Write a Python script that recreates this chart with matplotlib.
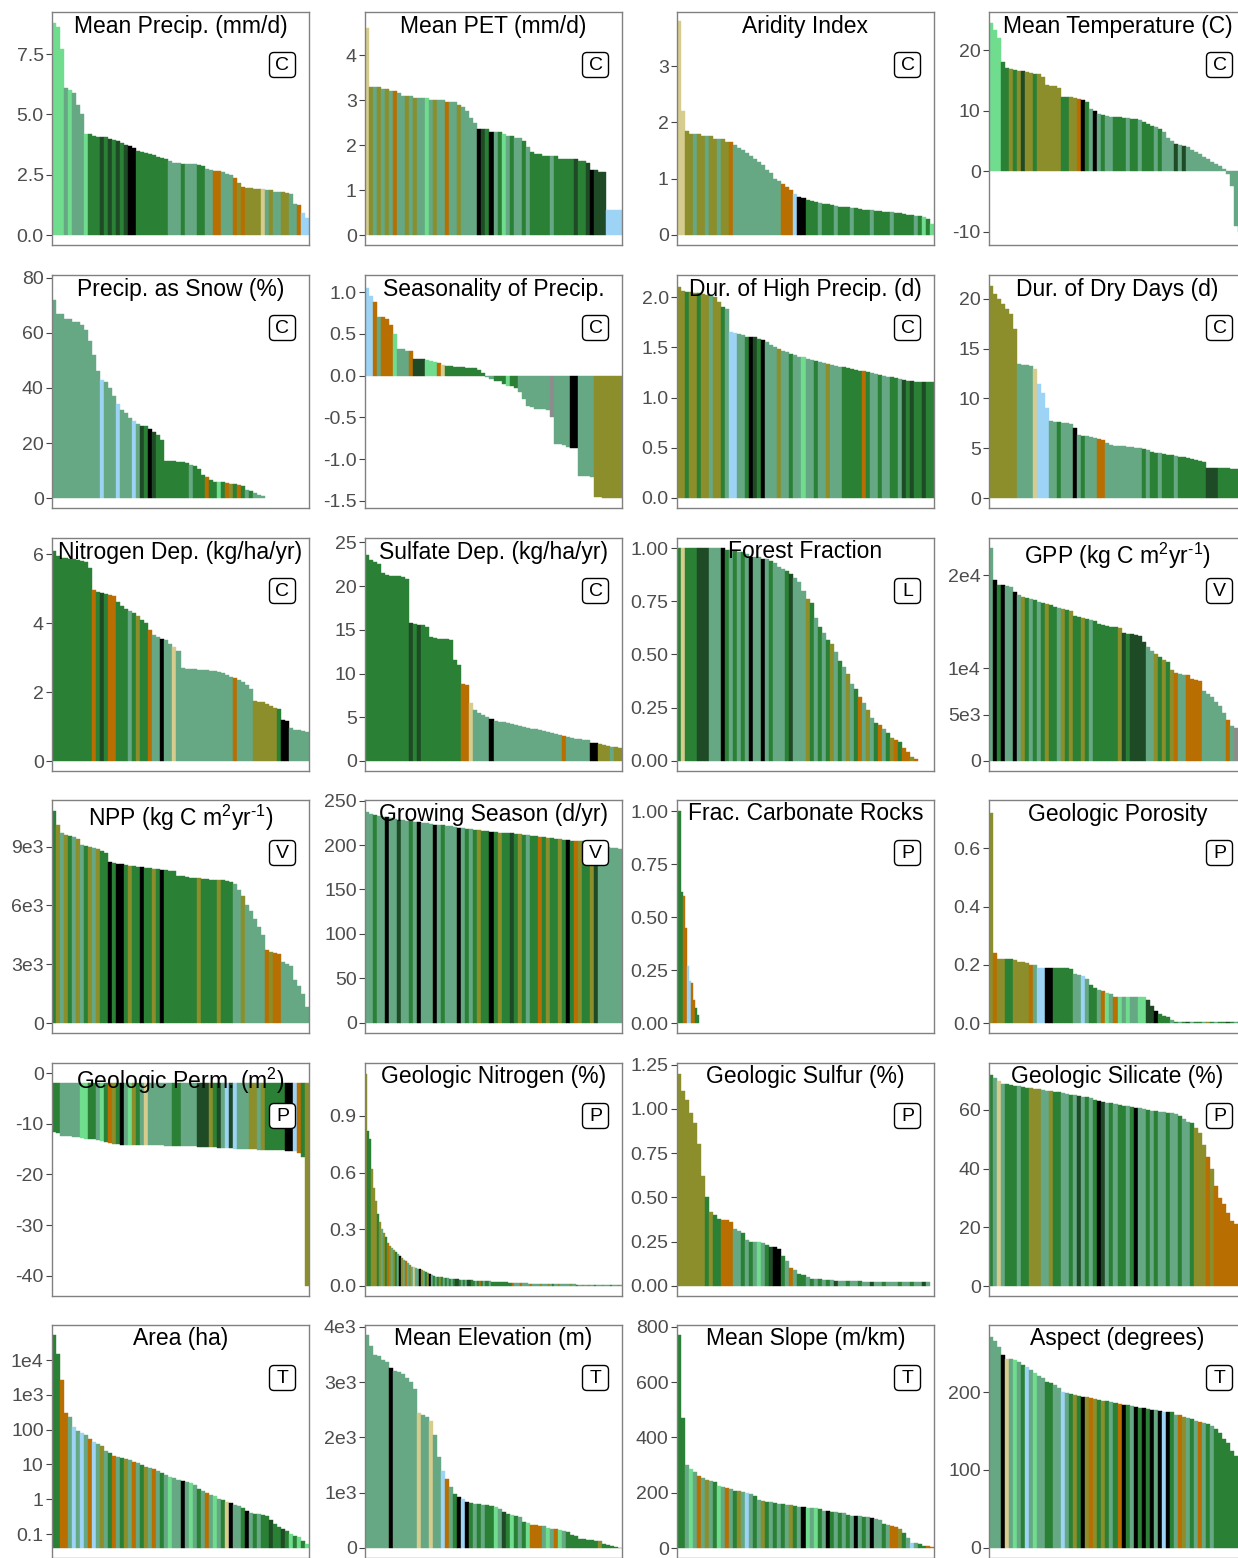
import numpy as np
import matplotlib
matplotlib.use("Agg")
import matplotlib.pyplot as plt
from matplotlib.patches import FancyBboxPatch
from matplotlib.ticker import NullLocator

plt.rcParams['font.family'] = ['Liberation Sans', 'DejaVu Sans']
plt.rcParams['mathtext.fontset'] = 'custom'
plt.rcParams['mathtext.rm'] = 'Liberation Sans'
plt.rcParams['mathtext.it'] = 'Liberation Sans:italic'
plt.rcParams['mathtext.bf'] = 'Liberation Sans:bold'

PALETTE = {
    'l': '#70DC8E', 's': '#65A883', 'f': '#2A8034', 'd': '#1E4A25',
    'k': '#000000', 'o': '#B86E00', 'v': '#8B8E2B', 't': '#D6CC8E',
    'b': '#9DD3F5', 'g': '#8C8C8C',
}

# ---------------- data ----------------
titles = ["Mean Precip. (mm/d)", "Mean PET (mm/d)", "Aridity Index", "Mean Temperature (C)",
          "Precip. as Snow (%)", "Seasonality of Precip.", "Dur. of High Precip. (d)", "Dur. of Dry Days (d)",
          "Nitrogen Dep. (kg/ha/yr)", "Sulfate Dep. (kg/ha/yr)", "Forest Fraction",
          r"GPP (kg C m$^{2}$yr$^{\text{-}1}$)",
          r"NPP (kg C m$^{2}$yr$^{\text{-}1}$)", "Growing Season (d/yr)", "Frac. Carbonate Rocks", "Geologic Porosity",
          "Geologic Perm. (m$^{2}$)", "Geologic Nitrogen (%)", "Geologic Sulfur (%)", "Geologic Silicate (%)",
          "Area (ha)", "Mean Elevation (m)", "Mean Slope (m/km)", "Aspect (degrees)"]
tags = ["C", "C", "C", "C", "C", "C", "C", "C", "C", "C", "L", "V",
        "V", "V", "P", "P", "P", "P", "P", "P", "T", "T", "T", "T"]

precip_vals = [8.8, 8.6, 7.7, 6.1, 6.0, 5.9, 5.4, 5.0,
               4.2, 4.2, 4.1, 4.05, 4.05, 4.05, 4.0, 3.95,
               3.9, 3.8, 3.75, 3.7, 3.6, 3.5, 3.45, 3.4,
               3.35, 3.3, 3.25, 3.2, 3.15, 3.05, 3.0, 3.0,
               2.95, 2.95, 2.95, 2.95, 2.9, 2.85, 2.75, 2.7,
               2.65, 2.65, 2.6, 2.55, 2.5, 2.35, 2.15, 2.0,
               1.95, 1.95, 1.9, 1.9, 1.9, 1.85, 1.85, 1.8,
               1.8, 1.8, 1.75, 1.7, 1.3, 1.25, 0.9, 0.7]
precip_cols = ("l l l s l s s s  l f f f d f d f  d f d k k f f f  f f f f f s s s  "
               "f s s s f f s s  o o s s s o v o  v v v v t s v s  s v v s s o b b")

pet_vals = [4.6, 3.3, 3.3, 3.3, 3.25, 3.25, 3.2, 3.2,
            3.15, 3.1, 3.1, 3.1, 3.05, 3.05, 3.05, 3.05,
            3.0, 3.0, 3.0, 3.0, 2.95, 2.95, 2.95, 2.9,
            2.85, 2.75, 2.6, 2.5, 2.35, 2.35, 2.35, 2.3,
            2.3, 2.3, 2.25, 2.2, 2.2, 2.15, 2.15, 2.1,
            1.95, 1.85, 1.8, 1.8, 1.75, 1.75, 1.75, 1.75,
            1.7, 1.7, 1.7, 1.7, 1.7, 1.65, 1.65, 1.6,
            1.45, 1.45, 1.4, 1.4, 0.55, 0.55, 0.55, 0.55]
pet_cols = ("t v s v s v s o  s s v s v s s l  s v s s o s s v  s s s s k d f k  "
            "s f l s f s s f  s f f f f f s f  f f f f d f f d  k d d d b b b b")

arid_vals = [3.8, 2.2, 1.85, 1.8, 1.8, 1.8, 1.75, 1.75,
             1.75, 1.7, 1.7, 1.7, 1.65, 1.65, 1.6, 1.55,
             1.5, 1.45, 1.4, 1.35, 1.3, 1.25, 1.15, 1.1,
             1.0, 0.95, 0.9, 0.85, 0.8, 0.72, 0.68, 0.65,
             0.62, 0.6, 0.58, 0.57, 0.55, 0.54, 0.53, 0.52,
             0.5, 0.5, 0.49, 0.48, 0.47, 0.46, 0.45, 0.45,
             0.44, 0.43, 0.42, 0.41, 0.4, 0.4, 0.39, 0.38,
             0.37, 0.36, 0.35, 0.34, 0.33, 0.31, 0.28, 0.2]
arid_cols = ("t t v v s v v s  v v s v v o s s  s s s s s s s s  s s o o o b k k  "
             "f f f s f f f s  f f f s f f f f  s f f f f s f f  f f f s f l f l")

temp_vals = [24.5, 23.3, 22.0, 18.0, 17.0, 16.8, 16.7, 16.6,
             16.5, 16.4, 16.2, 16.1, 16.0, 15.5, 14.2, 14.1,
             14.0, 13.8, 12.3, 12.2, 12.2, 12.1, 12.0, 11.8,
             11.5, 10.2, 10.0, 9.5, 9.2, 9.1, 9.0, 9.0,
             8.9, 8.8, 8.8, 8.7, 8.6, 8.5, 8.2, 7.8,
             7.5, 7.3, 7.0, 6.5, 5.5, 5.0, 4.5, 4.3,
             4.2, 4.0, 3.5, 3.2, 2.8, 2.4, 2.0, 1.5,
             1.2, 0.8, 0.3, -0.5, -2.5, -9.0, -10.0, -10.5]
temp_cols = ("l l l f f v f v  d v v f v v v v  v v f f v v o k  f s k s f s s f  "
             "f f s f f s f f  f s f s s s d s  d s s s s s s s  s s s s s s s s")

snow_vals = [72, 67, 67, 65, 65, 64, 64, 63,
             61, 57, 52, 46, 43, 42, 40, 37,
             34, 32, 31, 29, 28, 27, 26, 26,
             25, 24, 23, 21, 13.5, 13.5, 13.3, 13,
             13, 12.8, 12, 11.7, 10.5, 8.5, 7.5, 6.5,
             6, 6, 5.8, 5.5, 5.2, 5, 4.8, 4.5,
             3, 2.5, 2, 1.2, 0.8]
snow_cols = ("s s s s s s s s  s s s s b s s s  b s s s b s d f  k d f f f f f f  "
             "f f s f f f o f  f l f o v f o f  s f s s s")

season_vals = [1.05, 0.95, 0.88, 0.7, 0.7, 0.68, 0.6, 0.5,
               0.32, 0.32, 0.3, 0.3, 0.2, 0.2, 0.2, 0.19,
               0.18, 0.16, 0.15, 0.13, 0.12, 0.11, 0.1, 0.1,
               0.1, 0.09, 0.09, 0.09, 0.07, 0.03, -0.02, -0.04,
               -0.06, -0.07, -0.1, -0.12, -0.13, -0.15, -0.2, -0.28,
               -0.36, -0.38, -0.4, -0.4, -0.4, -0.41, -0.5, -0.82,
               -0.82, -0.83, -0.85, -0.87, -0.87, -1.2, -1.2, -1.2,
               -1.21, -1.45, -1.45, -1.46, -1.46, -1.46, -1.47, -1.47]
season_cols = ("b b o s o o o l  s s s o d d d l  l l o t f f f f  f f f f f f s s  "
               "f f f l f f s s  s s s s s s g s  s s s k k s s s  s v v v v v v v")

highp_vals = [2.1, 2.06, 2.05, 2.05, 2.04, 2.04, 2.03, 2.02,
              2.02, 2.0, 1.95, 1.9, 1.88, 1.65, 1.64, 1.63,
              1.62, 1.6, 1.6, 1.6, 1.58, 1.57, 1.55, 1.52,
              1.5, 1.48, 1.46, 1.45, 1.43, 1.42, 1.4, 1.4,
              1.38, 1.37, 1.36, 1.35, 1.34, 1.33, 1.32, 1.31,
              1.3, 1.3, 1.29, 1.28, 1.27, 1.26, 1.26, 1.25,
              1.24, 1.23, 1.22, 1.21, 1.2, 1.2, 1.19, 1.18,
              1.17, 1.16, 1.16, 1.15, 1.15, 1.15, 1.15, 1.15]
highp_cols = ("v v f v v f v v  s v v f s b b s  s f k d f k s s  s v s s f s s l  "
              "s s f s s v s s  s f f f f f o f  s s f s s f f s  d f d f f d f f")

dry_vals = [21.3, 20.5, 20.0, 19.5, 19.0, 18.5, 17.0, 13.5,
            13.4, 13.4, 13.3, 13.0, 11.5, 10.5, 9.0, 7.7,
            7.6, 7.6, 7.5, 7.5, 7.4, 7.0, 6.3, 6.2,
            6.2, 6.1, 6.0, 5.9, 5.8, 5.5, 5.3, 5.2,
            5.2, 5.2, 5.1, 5.1, 5.0, 5.0, 4.9, 4.8,
            4.6, 4.5, 4.5, 4.4, 4.3, 4.3, 4.2, 4.1,
            4.1, 4.0, 3.9, 3.8, 3.7, 3.6, 3.0, 3.0,
            3.0, 3.0, 3.0, 3.0, 2.9, 2.9, 2.9, 2.9]
dry_cols = ("v v v v v v v s  s s s t b b b s  s f s s s k s f  s s s o o s s s  "
            "s s s s s s f s  f f s f f f s f  f f f f f f d d  d f f f f f f f")

ndep_vals = [6.1, 5.95, 5.9, 5.88, 5.86, 5.85, 5.83, 5.8,
             5.78, 5.6, 4.95, 4.9, 4.88, 4.85, 4.82, 4.8,
             4.6, 4.5, 4.4, 4.35, 4.3, 4.2, 4.1, 4.0,
             3.8, 3.65, 3.6, 3.55, 3.5, 3.4, 3.3, 3.2,
             2.7, 2.68, 2.67, 2.66, 2.65, 2.64, 2.63, 2.62,
             2.6, 2.58, 2.55, 2.5, 2.45, 2.4, 2.35, 2.3,
             2.2, 2.1, 1.75, 1.7, 1.7, 1.65, 1.6, 1.55,
             1.5, 1.2, 1.15, 0.95, 0.9, 0.9, 0.88, 0.85]
ndep_cols = ("f f f f f f f f  f f o f d f o o  f f f s f v f f  o s s k s s t s  "
             "s s s s s s s s  s s s s s o s s  s s v v v v v v  f k k s s s s s")

sdep_vals = [23.5, 23.0, 22.8, 22.5, 21.5, 21.3, 21.2, 21.2,
             21.1, 21.0, 20.8, 15.8, 15.7, 15.6, 15.5, 15.3,
             14.2, 14.1, 14.0, 14.0, 13.9, 13.8, 11.5, 11.0,
             8.8, 8.7, 6.6, 5.8, 5.5, 5.3, 5.0, 4.8,
             4.6, 4.5, 4.4, 4.3, 4.2, 4.1, 4.0, 3.9,
             3.8, 3.7, 3.6, 3.5, 3.4, 3.3, 3.2, 3.1,
             3.0, 2.8, 2.7, 2.6, 2.55, 2.5, 2.45, 2.4,
             2.1, 2.05, 1.9, 1.8, 1.7, 1.65, 1.6, 1.5]
sdep_cols = ("f f f f f f f f  f f f d f d f f  f f f f f f f f  o o t s s s s k  "
             "s s s s s s s s  s s s s s s s s  s o s s s s s s  k k v v v s v v")

forest_vals = [1.0, 1.0, 1.0, 1.0, 1.0, 1.0, 1.0, 1.0,
               1.0, 1.0, 1.0, 1.0, 0.99, 0.99, 0.99, 0.98,
               0.98, 0.97, 0.96, 0.96, 0.96, 0.95, 0.95, 0.94,
               0.93, 0.91, 0.9, 0.89, 0.88, 0.86, 0.84, 0.8,
               0.76, 0.74, 0.67, 0.63, 0.6, 0.57, 0.55, 0.51,
               0.47, 0.44, 0.41, 0.36, 0.34, 0.3, 0.27, 0.24,
               0.2, 0.18, 0.17, 0.15, 0.13, 0.11, 0.1, 0.09,
               0.06, 0.04, 0.02, 0.01]
forest_cols = ("f t f f f d d d  s s s k f s f s  f s k s s k s f  s s s f d s s s  "
               "v f s f s f v s  f s v s f o s v  s f o s f v o f  o o v o")

gpp_vals = [22900, 19500, 18900, 18900, 18800, 18700, 18200, 17900,
            17600, 17500, 17400, 17300, 17100, 17000, 16900, 16800,
            16600, 16500, 16400, 16300, 16100, 15600, 15500, 15400,
            15300, 15200, 15100, 14700, 14600, 14500, 14450, 14400,
            14300, 13800, 13700, 13700, 13600, 13500, 12800, 12300,
            11800, 11500, 11200, 10900, 10600, 9800, 9500, 9400,
            9300, 9200, 8800, 8700, 8600, 7500, 7200, 6900,
            6400, 5900, 5200, 4400, 3800, 3500, 3400, 3300]
gpp_cols = ("s k f k s s k s  v f s f s f v f  f s v f v f f v  f s f f f f f f  "
            "v d f d d d d s  s v f v f v o s  s o o o o s s s  s s s o s g s s")

npp_vals = [10800, 10100, 9700, 9600, 9550, 9500, 9400, 9100,
            9050, 9000, 8950, 8900, 8800, 8700, 8200, 8150,
            8100, 8100, 8050, 8000, 8000, 7980, 7950, 7920,
            7900, 7880, 7850, 7820, 7800, 7780, 7750, 7500,
            7480, 7450, 7420, 7400, 7380, 7360, 7340, 7320,
            7300, 7300, 7280, 7250, 7200, 7100, 6800, 6500,
            6000, 5700, 5300, 4900, 4500, 3700, 3600, 3550,
            3500, 3100, 3000, 2900, 2200, 1900, 1500, 800]
npp_cols = ("f v s v f s v s  f v s v f f k f  k k f v f f k f  f v f k f f f f  "
            "f f f f v f f f  f v f f f s s v  s s s s s o v o  o s s s s s s s")

grow_vals = [237, 235, 234, 233, 232, 231, 230, 229,
             228, 228, 227, 227, 226, 226, 225, 225,
             224, 223, 222, 222, 221, 221, 220, 219,
             219, 218, 218, 217, 217, 216, 216, 215,
             215, 214, 214, 213, 213, 212, 212, 211,
             211, 210, 210, 209, 209, 208, 208, 207,
             207, 206, 206, 205, 205, 204, 204, 203,
             203, 202, 200, 199, 198, 197, 197, 196]
grow_cols = ("s s f s s k s s  d s s f s k s s  s k s f s s s k  s f s f v f f k  "
             "f v f f d f v f  s f f o f v f f  v f k f o v f f  v d s s s s s s")

carb_vals = [1.0, 1.0, 0.62, 0.6, 0.45, 0.27, 0.2, 0.19, 0.11, 0.07, 0.04]
carb_cols = "f f f o o b b o o f f"

poro_vals = [0.72, 0.24, 0.22, 0.22, 0.22, 0.22, 0.215, 0.21,
             0.21, 0.205, 0.2, 0.2, 0.19, 0.19, 0.19, 0.19,
             0.19, 0.19, 0.19, 0.19, 0.185, 0.17, 0.165, 0.16,
             0.15, 0.13, 0.12, 0.115, 0.11, 0.105, 0.1, 0.09,
             0.09, 0.09, 0.09, 0.09, 0.09, 0.09, 0.09, 0.08,
             0.06, 0.04, 0.03, 0.025, 0.02, 0.01, 0.005, 0.005,
             0.005, 0.005, 0.005, 0.005, 0.005, 0.005, 0.005, 0.005,
             0.005, 0.005, 0.005, 0.005, 0.005, 0.005, 0.005, 0.005]
poro_cols = ("v o v v f f v v  v v o s b b k k  f f f f f s s b  s f f s o l s o  "
             "l s l s s l l d  d k f f f s f s  f d s f f s v f  s f f d f s f f")

perm_vals = [-11.6, -11.8, -12.4, -12.5, -12.5, -12.6, -12.7, -12.9,
             -13.0, -13.0, -13.1, -13.2, -13.4, -13.6, -13.8, -13.9,
             -14.0, -14.1, -14.1, -14.2, -14.2, -14.2, -14.2, -14.2,
             -14.2, -14.2, -14.2, -14.2, -14.3, -14.3, -14.3, -14.3,
             -14.3, -14.3, -14.3, -14.4, -14.5, -14.5, -14.6, -14.6,
             -14.6, -14.7, -14.7, -14.8, -14.8, -14.9, -14.9, -15.0,
             -15.0, -15.0, -15.0, -15.1, -15.1, -15.2, -15.2, -15.2,
             -15.2, -15.2, -15.3, -15.3, -15.4, -15.8, -16.5, -42.0]
perm_cols = ("f f s s s s s l  l f f s l f o v  f k s l v f s t  s s s s s s f f  "
             "s s s s d d d v  f d s b d b s s  s v v s v f f f  f f k k b o f v")

geon_vals = [1.12, 0.82, 0.78, 0.62, 0.52, 0.45, 0.38, 0.34,
             0.30, 0.28, 0.26, 0.23, 0.21, 0.20, 0.19, 0.18,
             0.17, 0.16, 0.15, 0.14, 0.13, 0.12, 0.11, 0.10,
             0.10, 0.095, 0.09, 0.09, 0.085, 0.08, 0.075, 0.07,
             0.065, 0.06, 0.055, 0.05, 0.05, 0.045, 0.045, 0.04,
             0.04, 0.04, 0.038, 0.037, 0.036, 0.035, 0.035, 0.034,
             0.033, 0.032, 0.031, 0.03, 0.03, 0.03, 0.029, 0.028,
             0.028, 0.027, 0.026, 0.025, 0.025, 0.024, 0.024, 0.023,
             0.022, 0.022, 0.021, 0.02, 0.02, 0.019, 0.019, 0.018,
             0.018, 0.017, 0.017, 0.016, 0.016, 0.015, 0.015, 0.014,
             0.014, 0.013, 0.013, 0.012, 0.012, 0.011, 0.011, 0.010,
             0.010, 0.010, 0.009, 0.009, 0.009, 0.009, 0.009, 0.009,
             0.009, 0.008, 0.008, 0.008, 0.008, 0.008, 0.008, 0.008,
             0.008, 0.007, 0.007, 0.007, 0.007, 0.007, 0.007, 0.007,
             0.007, 0.006, 0.006, 0.006, 0.006, 0.006, 0.006, 0.006,
             0.006, 0.005, 0.005, 0.005, 0.005, 0.005, 0.005, 0.005]
geon_cols = ("v f f v v v f v  s v f o v s v f  s k v s o s v s  t s s k v s f v  "
             "k s f s f v f s  f s f s f d d f  s f s d d f f s  f o f s f f s f  "
             "f f f f f f f f  f o s s s o s s  s s o s s s s v  s s s v s f s s  "
             "v s s s s s v s  s f s s v s s v  s s f s s s v s  s s f s s s v s")

geos_vals = [1.2, 1.1, 1.05, 0.98, 0.92, 0.8, 0.62, 0.5,
             0.42, 0.4, 0.38, 0.37, 0.37, 0.36, 0.32, 0.31,
             0.3, 0.26, 0.25, 0.25, 0.25, 0.24, 0.23, 0.22,
             0.22, 0.21, 0.17, 0.14, 0.1, 0.09, 0.07, 0.06,
             0.05, 0.04, 0.04, 0.04, 0.035, 0.035, 0.035, 0.03,
             0.03, 0.03, 0.028, 0.025, 0.025, 0.025, 0.024, 0.024,
             0.024, 0.023, 0.023, 0.023, 0.022, 0.022, 0.022, 0.021,
             0.021, 0.021, 0.02, 0.02, 0.02, 0.02, 0.02]
geos_cols = ("v v v v v v v f  v f f o o o s s  f s f s l s f d  k k f s o s f f  "
             "s f s f s f s d  s s f s s f s s  d s s f s s s f  s s f s s d s")

silic_vals = [72, 71, 70, 69, 69, 68.5, 68.3, 68,
              67.8, 67.6, 67.4, 67.2, 67, 66.8, 66.6, 66.4,
              66.2, 66, 65.8, 65.5, 65.2, 65, 64.8, 64.5,
              64.3, 64, 63.5, 63, 62.8, 62.5, 62.3, 62,
              61.8, 61.5, 61.3, 61, 60.8, 60.5, 60.3, 60,
              59.8, 59.6, 59.4, 59.2, 59, 58.8, 58.6, 58,
              57, 56, 55.5, 54, 52, 48, 44, 40,
              34, 30, 28, 25, 22, 21, 20, 19]
silic_cols = ("f s t s f f f s  f f v v v s s v  f f s s f s d s  f s f k d s f s  "
              "f f s f k s s f  s f s s f s s f  s s f v v v o v  o o o o o o o o")

area_vals = [5.3e4, 1.5e4, 2600, 300, 230, 120, 90, 80,
             70, 55, 45, 40, 35, 25, 22, 18,
             16, 15, 14, 13, 12, 11, 9.5, 8.5,
             8, 7.5, 6.5, 5.5, 5, 4.5, 4, 3.5,
             3.3, 3.2, 3, 2.5, 2, 1.7, 1.5, 1.3,
             1.2, 1.0, 0.95, 0.85, 0.8, 0.7, 0.65, 0.55,
             0.45, 0.4, 0.38, 0.37, 0.36, 0.33, 0.25, 0.2,
             0.16, 0.14, 0.12, 0.1, 0.09, 0.08, 0.065, 0.05]
area_cols = ("f f o o s b s b  s o b s v s f o  s f v s o s f v  s o s f s l s s  "
             "k s l s f s o s  l s f t k s s f  k s f s f f d f  f d f l f l f l")

elev_vals = [3850, 3650, 3500, 3480, 3400, 3360, 3250, 3200,
             3180, 3150, 3080, 3000, 2880, 2450, 2400, 2370,
             2300, 2050, 1650, 1400, 1250, 1100, 980, 930,
             880, 840, 820, 800, 790, 780, 770, 760,
             740, 700, 650, 620, 600, 580, 560, 470,
             460, 420, 410, 400, 390, 360, 350, 340,
             320, 300, 280, 230, 210, 170, 160, 150,
             140, 130, 120, 80, 60, 30, 15, 5]
elev_cols = ("s s s s s s k s  s s s s s t s s  t s s b o s f k  b k f s f s f f  "
             "l s d f l f s f  l o o o s l s o  l s f f f f f f  f f v f f f f f")

slope_vals = [770, 470, 300, 285, 275, 262, 255, 248,
              243, 238, 225, 220, 216, 212, 208, 205,
              203, 198, 194, 190, 175, 170, 168, 166,
              164, 160, 158, 156, 155, 153, 150, 148,
              146, 145, 144, 140, 134, 133, 131, 130,
              128, 127, 118, 117, 116, 115, 113, 111,
              109, 105, 100, 88, 85, 80, 77, 70,
              55, 38, 20, 18, 16, 8, 6, 5]
slope_cols = ("f f s l s o s v  s f l s o s f v  s b s f s v f s  f s f s v f s k  "
              "l s l f s k f s  f s f s k s f s  k s s f s o o v  f s b s f f o o")

aspect_vals = [271, 265, 258, 248, 243, 242, 241, 238,
               235, 232, 228, 224, 221, 218, 213, 211,
               209, 205, 200, 199, 198, 196, 195, 194,
               193, 192, 191, 190, 189, 188, 187, 186,
               185, 184, 183, 182, 181, 180, 179, 178,
               177, 177, 176, 175, 175, 174, 171, 170,
               168, 167, 166, 163, 161, 160, 159, 157,
               152, 148, 140, 134, 125, 118, 110, 100]
aspect_cols = ("s s s k t s l s  f b s l s s f f  s s b s f v f k  v o v f v f s f  "
               "o k f s k f k f  k s k b k f s o  v s f s o s f s  f f f f f f f f")

panel_vals = [precip_vals, pet_vals, arid_vals, temp_vals,
              snow_vals, season_vals, highp_vals, dry_vals,
              ndep_vals, sdep_vals, forest_vals, gpp_vals,
              npp_vals, grow_vals, carb_vals, poro_vals,
              perm_vals, geon_vals, geos_vals, silic_vals,
              area_vals, elev_vals, slope_vals, aspect_vals]
panel_cols = [precip_cols, pet_cols, arid_cols, temp_cols,
              snow_cols, season_cols, highp_cols, dry_cols,
              ndep_cols, sdep_cols, forest_cols, gpp_cols,
              npp_cols, grow_cols, carb_cols, poro_cols,
              perm_cols, geon_cols, geos_cols, silic_cols,
              area_cols, elev_cols, slope_cols, aspect_cols]

tick_vals = [[0, 2.5, 5, 7.5], [0, 1, 2, 3, 4], [0, 1, 2, 3], [-10, 0, 10, 20],
             [0, 20, 40, 60, 80], [-1.5, -1, -0.5, 0, 0.5, 1], [0, 0.5, 1, 1.5, 2], [0, 5, 10, 15, 20],
             [0, 2, 4, 6], [0, 5, 10, 15, 20, 25], [0, 0.25, 0.5, 0.75, 1], [0, 5000, 10000, 20000],
             [0, 3000, 6000, 9000], [0, 50, 100, 150, 200, 250], [0, 0.25, 0.5, 0.75, 1], [0, 0.2, 0.4, 0.6],
             [-40, -30, -20, -10, 0], [0, 0.3, 0.6, 0.9], [0, 0.25, 0.5, 0.75, 1, 1.25], [0, 20, 40, 60],
             [0.1, 1, 10, 100, 1000, 10000], [0, 1000, 2000, 3000, 4000], [0, 200, 400, 600, 800], [0, 100, 200]]
tick_labels = [["0.0", "2.5", "5.0", "7.5"], ["0", "1", "2", "3", "4"], ["0", "1", "2", "3"], ["-10", "0", "10", "20"],
               ["0", "20", "40", "60", "80"], ["-1.5", "-1.0", "-0.5", "0.0", "0.5", "1.0"],
               ["0.0", "0.5", "1.0", "1.5", "2.0"], ["0", "5", "10", "15", "20"],
               ["0", "2", "4", "6"], ["0", "5", "10", "15", "20", "25"], ["0.00", "0.25", "0.50", "0.75", "1.00"],
               ["0", "5e3", "1e4", "2e4"],
               ["0", "3e3", "6e3", "9e3"], ["0", "50", "100", "150", "200", "250"],
               ["0.00", "0.25", "0.50", "0.75", "1.00"], ["0.0", "0.2", "0.4", "0.6"],
               ["-40", "-30", "-20", "-10", "0"], ["0.0", "0.3", "0.6", "0.9"],
               ["0.00", "0.25", "0.50", "0.75", "1.00", "1.25"], ["0", "20", "40", "60"],
               ["0.1", "1", "10", "100", "1e3", "1e4"], ["0", "1e3", "2e3", "3e3", "4e3"],
               ["0", "200", "400", "600", "800"], ["0", "100", "200"]]

# ---------------- layout / style ----------------
ylims = [(-0.41, 9.24), (-0.22, 4.96), (-0.18, 3.96), (-12.2, 26.3),
         (-3.6, 81.0), (-1.584, 1.204), (-0.10, 2.22), (-1.0, 22.4),
         (-0.29, 6.47), (-1.15, 25.5), (-0.047, 1.047), (-1080, 24000),
         (-510, 11380), (-11.3, 250.6), (-0.047, 1.052), (-0.034, 0.766),
         (-44.0, 2.0), (-0.053, 1.18), (-0.057, 1.26), (-3.4, 76),
         (10 ** -1.69, 10 ** 5.01), (-182, 4036), (-36, 807), (-12.9, 286)]
bases = [0] * 24
bases[16] = -2.0
bases[20] = 0.04
slots = [64] * 24
slots[14] = 128
slots[17] = 128
log_panel = 20

W, H = 1238, 1558
fig = plt.figure(figsize=(W / 100, H / 100), dpi=100)
col_left = [52, 365, 677, 989]
row_top = [12, 275, 538, 800, 1063, 1325]
PW, PH = 257, 233

for k in range(24):
    r, c = divmod(k, 4)
    l, t = col_left[c], row_top[r]
    ax = fig.add_axes([l / W, 1 - (t + PH) / H, PW / W, PH / H])
    vals = np.asarray(panel_vals[k], dtype=float)
    toks = panel_cols[k].split()
    n = len(vals)
    if len(toks) < n:
        toks = toks + [toks[-1]] * (n - len(toks))
    cols = [PALETTE[ch] for ch in toks[:n]]
    x = np.arange(n)
    if k == log_panel:
        ax.set_yscale('log')
    base = bases[k]
    ax.bar(x, vals - base, bottom=base, width=1.0, color=cols,
           edgecolor=cols, linewidth=0.3, align='center')
    ax.set_xlim(-0.5, max(n, slots[k]) - 0.5)
    ax.set_ylim(*ylims[k])
    ax.set_yticks(tick_vals[k])
    ax.set_yticklabels(tick_labels[k])
    ax.yaxis.set_minor_locator(NullLocator())
    ax.set_xticks([])
    ax.tick_params(axis='y', length=4, width=0.8, color='#444444',
                   labelsize=14, labelcolor='#4D4D4D', pad=2)
    for sp in ax.spines.values():
        sp.set_color('#808080')
        sp.set_linewidth(1.0)
    ax.text(0.5, 1 - 2.5 / PH, titles[k], transform=ax.transAxes,
            ha='center', va='top', fontsize=16.5, color='black', zorder=5)

    # tag box
    cx = l + PW - 26.5
    cy = t + 53
    bw, bh = 26, 25
    box = FancyBboxPatch(((cx - bw / 2) / 100, (H - cy - bh / 2) / 100), bw / 100, bh / 100,
                         boxstyle='round,pad=0,rounding_size=0.045',
                         transform=fig.dpi_scale_trans, fc='white', ec='black',
                         lw=1.0, zorder=6)
    fig.add_artist(box)
    fig.text(cx / W, 1 - (cy + 0.5) / H, tags[k], ha='center', va='center',
             fontsize=14, color='black', zorder=7)

fig.savefig('out.png', dpi=100)
